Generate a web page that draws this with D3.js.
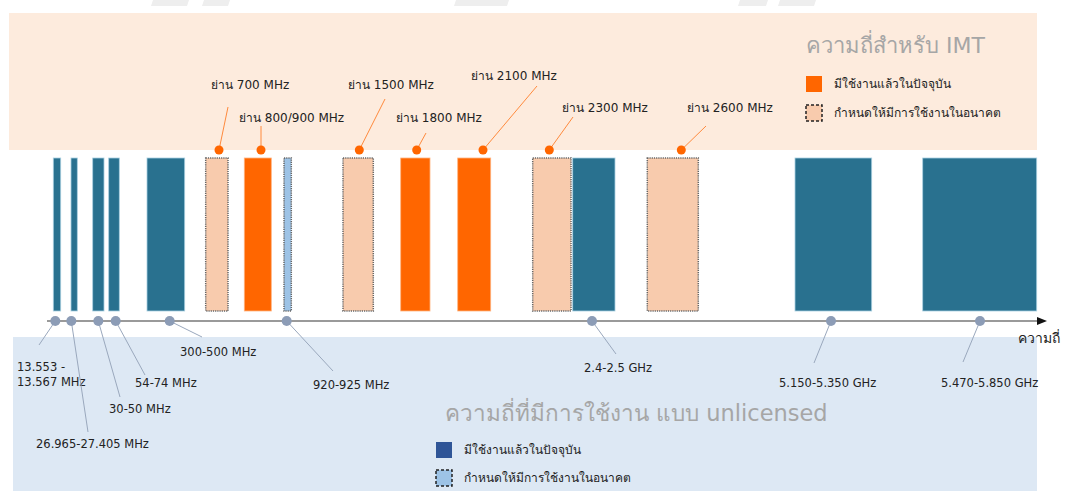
<!DOCTYPE html>
<html>
<head>
<meta charset="utf-8">
<script src="https://cdn.jsdelivr.net/npm/d3@7"></script>
<style>
  body { margin: 0; background: #fff; }
  text { font-family: Tahoma, "DejaVu Sans", "Liberation Sans", sans-serif; }
</style>
</head>
<body>
<script>
// schematic frequency axis, units measured along the drawn axis
let unlicensedNow = [[6.3, 13.7], [24, 30.3], [45.7, 57], [61.7, 72.3], [100, 137.7], [525.7, 568], [748, 824.7], [875.7, 989.7]];
let unlicensedFuture = [[237, 244.3]];
let imtNow = [[197.3, 224.3], [353.7, 383], [410.7, 443.7]];
let imtFuture = [[158.7, 181], [296, 326.3], [485.7, 524], [600.3, 651.3]];

let imtDots = [172, 214, 312.3, 369.7, 436, 502.3, 634.3];
let imtLabels = ["ย่าน 700 MHz", "ย่าน 800/900 MHz", "ย่าน 1500 MHz", "ย่าน 1800 MHz", "ย่าน 2100 MHz", "ย่าน 2300 MHz", "ย่าน 2600 MHz"];

let unlDots = [8.3, 24.3, 51.3, 68.7, 122.7, 239.7, 545, 784, 933];
let unlLabels = [["13.553 -", "13.567 MHz"], ["26.965-27.405 MHz"], ["30-50 MHz"], ["54-74 MHz"], ["300-500 MHz"], ["920-925 MHz"], ["2.4-2.5 GHz"], ["5.150-5.350 GHz"], ["5.470-5.850 GHz"]];

let imtTitle = "ความถี่สำหรับ IMT";
let unlTitle = "ความถี่ที่มีการใช้งาน แบบ unlicensed";
let legendNow = "มีใช้งานแล้วในปัจจุบัน";
let legendFuture = "กำหนดให้มีการใช้งานในอนาคต";
let axisTitle = "ความถี่";

// layout (pixels): leader end and text anchor for each label
let imtLayout = [
  {lx: 228, ly: 107, tx: 211, ty: 85},
  {lx: 261, ly: 126, tx: 239, ty: 118},
  {lx: 385, ly: 99, tx: 348, ty: 85},
  {lx: 426, ly: 133, tx: 396, ty: 118},
  {lx: 537, ly: 86, tx: 471, ty: 76},
  {lx: 573, ly: 117, tx: 562, ty: 108},
  {lx: 706, ly: 126, tx: 687, ty: 108}
];
let unlLayout = [
  {lx: 39, ly: 345, tx: 17, ty: 367},
  {lx: 88, ly: 432, tx: 36, ty: 444},
  {lx: 120, ly: 397, tx: 109, ty: 409},
  {lx: 145, ly: 375, tx: 135, ty: 383},
  {lx: 202, ly: 337, tx: 180, ty: 352},
  {lx: 333, ly: 371, tx: 313, ty: 385},
  {lx: 616, ly: 354, tx: 584, ty: 368},
  {lx: 814, ly: 363, tx: 779, ty: 383},
  {lx: 963, ly: 362, tx: 941, ty: 383}
];

let width = 1067, height = 491;
let barTop = 158, barBottom = 311, axisY = 321;

let x = d3.scaleLinear().domain([0, 1000]).range([47, 1047]);

let svg = d3.select("body").append("svg")
  .attr("width", width)
  .attr("height", height);

// faint watermark shapes at the top edge
let marks = [[151, 187], [202, 228], [454, 507], [738, 766], [778, 814]];
svg.selectAll("polygon.wm").data(marks).enter().append("polygon")
  .attr("class", "wm")
  .attr("points", d => `${d[0] + 2},0 ${d[1] + 2},0 ${d[1]},6 ${d[0]},6`)
  .attr("fill", "#eeeeee");

// background bands
svg.append("rect").attr("x", 9).attr("y", 13).attr("width", 1028).attr("height", 137).attr("fill", "#fdebdd");
svg.append("rect").attr("x", 13).attr("y", 337).attr("width", 1024).attr("height", 154).attr("fill", "#dde8f4");

let bar = (data, fill, stroke, dotted) => {
  svg.append("g").selectAll("rect").data(data).enter().append("rect")
    .attr("x", d => x(d[0]))
    .attr("y", barTop)
    .attr("width", d => x(d[1]) - x(d[0]))
    .attr("height", barBottom - barTop)
    .attr("fill", fill)
    .attr("stroke", stroke)
    .attr("stroke-width", dotted ? 1.5 : 0.8)
    .attr("stroke-dasharray", dotted ? "1.2,1" : null);
};
bar(unlicensedNow, "#29718f", "#a9cfe0", false);
bar(unlicensedFuture, "#9dc3e6", "#666", true);
bar(imtNow, "#ff6600", "#ffb380", false);
bar(imtFuture, "#f8cbad", "#666", true);

// axis
svg.append("line")
  .attr("x1", 47).attr("x2", 1040)
  .attr("y1", axisY).attr("y2", axisY)
  .attr("stroke", "#9a9a9a").attr("stroke-width", 2);
svg.append("path")
  .attr("d", `M1037,${axisY - 4} L1047,${axisY} L1037,${axisY + 4} Z`)
  .attr("fill", "#111");
svg.append("text").attr("x", 1018).attr("y", 343)
  .attr("font-size", 14).attr("fill", "#222").text(axisTitle);

// IMT leaders and labels
let imtG = svg.append("g").selectAll("g").data(imtDots).enter().append("g");
imtG.append("line")
  .attr("x1", d => x(d)).attr("y1", 150)
  .attr("x2", (d, i) => imtLayout[i].lx).attr("y2", (d, i) => imtLayout[i].ly)
  .attr("stroke", "#ff8a3d").attr("stroke-width", 1);
imtG.append("circle")
  .attr("cx", d => x(d)).attr("cy", 150).attr("r", 4.5)
  .attr("fill", "#ff6600");
imtG.append("text")
  .attr("x", (d, i) => imtLayout[i].tx).attr("y", (d, i) => imtLayout[i].ty)
  .attr("dy", "0.35em")
  .attr("font-size", 12).attr("fill", "#222")
  .text((d, i) => imtLabels[i]);

// unlicensed leaders and labels
let unlG = svg.append("g").selectAll("g").data(unlDots).enter().append("g");
unlG.append("line")
  .attr("x1", d => x(d)).attr("y1", axisY)
  .attr("x2", (d, i) => unlLayout[i].lx).attr("y2", (d, i) => unlLayout[i].ly)
  .attr("stroke", "#9aa8bd").attr("stroke-width", 1);
unlG.append("circle")
  .attr("cx", d => x(d)).attr("cy", axisY).attr("r", 5)
  .attr("fill", "#8c9cb6");
unlG.append("text")
  .attr("font-size", 11.5).attr("fill", "#222")
  .attr("y", (d, i) => unlLayout[i].ty)
  .selectAll("tspan").data((d, i) => unlLabels[i].map(t => ({t: t, i: i}))).enter().append("tspan")
  .attr("x", d => unlLayout[d.i].tx)
  .attr("dy", (d, j) => j === 0 ? "0.35em" : "1.3em")
  .text(d => d.t);

// titles
svg.append("text").attr("x", 985).attr("y", 53).attr("text-anchor", "end")
  .attr("font-size", 22).attr("fill", "#a6a6a6").text(imtTitle);
svg.append("text").attr("x", 445).attr("y", 421)
  .attr("font-size", 22.5).attr("fill", "#a6a6a6").text(unlTitle);

// legends
let legend = (lx, y1, y2, nowFill, futFill) => {
  svg.append("rect").attr("x", lx).attr("y", y1 - 8).attr("width", 16).attr("height", 16).attr("fill", nowFill);
  svg.append("rect").attr("x", lx).attr("y", y2 - 8).attr("width", 16).attr("height", 16)
    .attr("fill", futFill).attr("stroke", "#222").attr("stroke-width", 1.5).attr("stroke-dasharray", "3,2");
  svg.append("text").attr("x", lx + 28).attr("y", y1).attr("dy", "0.35em")
    .attr("font-size", 12).attr("fill", "#222").text(legendNow);
  svg.append("text").attr("x", lx + 28).attr("y", y2).attr("dy", "0.35em")
    .attr("font-size", 12).attr("fill", "#222").text(legendFuture);
};
legend(806, 84, 113, "#ff6600", "#f8cbad");
legend(436, 450, 478, "#2f5597", "#9dc3e6");
</script>
</body>
</html>
